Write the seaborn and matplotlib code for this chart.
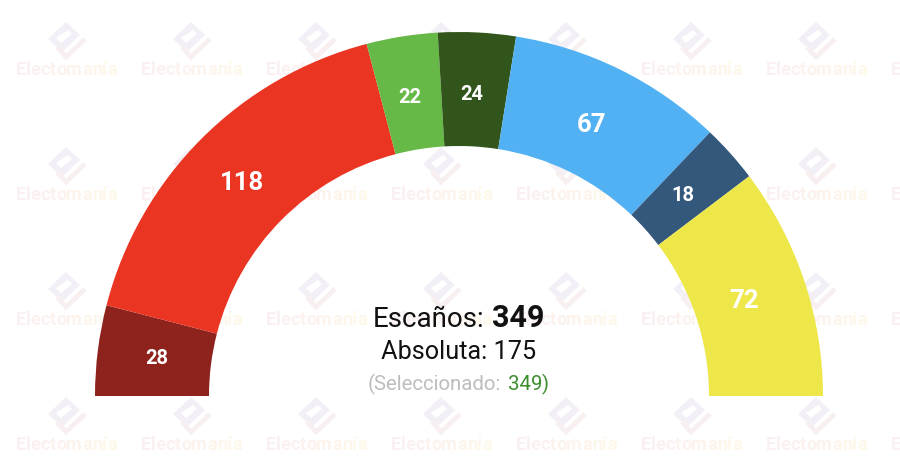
import matplotlib
matplotlib.use("Agg")
import matplotlib.pyplot as plt
import numpy as np
import seaborn as sns
from matplotlib.font_manager import FontProperties
from matplotlib.patches import Polygon
from matplotlib.textpath import TextPath

seats = [28, 118, 22, 24, 67, 18, 72]
party_colors = ["#8E231E", "#EB3523", "#66B946", "#31551B", "#52B1F2", "#33587C", "#EDE74A"]
total_seats = 349
majority = 175
selected = 349
label_sizes = [14.5, 18.5, 14.5, 14.5, 18.5, 14.5, 18.5]

tile_x = [66, 191, 316, 441, 566, 691, 816, 941]
tile_y = [69, 194, 319, 444]
wm_word = "Electomanía"
wm_colors = ["#FAF0F2", "#FAF0F2", "#FBF1F0", "#FBF1F0", "#FCF2EE", "#FCF2EE", "#FCF3ED",
             "#FDF5EC", "#FDF6EB", "#FEF7EA", "#FEF8EA"]

W, H = 900, 460
CX, CY = 459, 63  # centre of the half circle, y from the bottom
R_OUT, R_IN = 364, 250

sns.set_theme(style="white")
plt.rcParams["font.family"] = ["Roboto", "DejaVu Sans"]

fig = plt.figure(figsize=(W / 100, H / 100), dpi=100)
ax = fig.add_axes([0, 0, 1, 1])

# half donut, the lower half is an invisible wedge
wedges, _ = ax.pie(
    seats + [sum(seats)],
    colors=sns.color_palette(party_colors) + [(1, 1, 1, 0)],
    startangle=180,
    counterclock=False,
    radius=R_OUT,
    center=(CX, CY),
    wedgeprops={"width": R_OUT - R_IN, "linewidth": 0, "zorder": 2},
)
ax.set_xlim(0, W)
ax.set_ylim(0, H)
ax.axis("off")

# seat labels inside each wedge
label_r = 303
edges = np.cumsum([0] + seats)
for i, n in enumerate(seats):
    ang = np.pi * (edges[i] + n / 2) / total_seats
    ax.text(CX - 2 - label_r * np.cos(ang), CY + label_r * np.sin(ang), str(n), color="white",
            fontsize=label_sizes[i], fontweight="bold", ha="center", va="center", zorder=3)

# watermark tiles
wm_font = FontProperties(family="Roboto", weight="bold")
wm_px = 18.2
advance = [TextPath((0, 0), wm_word[:i] + "|", size=wm_px, prop=wm_font).get_extents().x1
           - TextPath((0, 0), "|", size=wm_px, prop=wm_font).get_extents().x1
           for i in range(len(wm_word))]
wm_width = TextPath((0, 0), wm_word, size=wm_px, prop=wm_font).get_extents().x1
for tx in tile_x:
    for ty in tile_y:
        base = H - ty - 6
        for ch, off, col in zip(wm_word, advance, wm_colors):
            x = tx - wm_width / 2 + off
            if x > W - 9:  # letters past the edge
                continue
            ax.text(x, base, ch, color=col, fontsize=wm_px * 0.72,
                    fontweight="bold", ha="left", va="baseline", zorder=0)
        ly = H - ty + 29  # logo centre height
        ax.add_patch(Polygon([(tx, ly + 17), (tx + 14, ly + 4), (tx - 4, ly - 13), (tx - 18, ly)],
                             closed=True, fc="#F3EFF6", ec="none", zorder=0))
        ax.add_patch(Polygon([(tx - 10, ly + 1), (tx + 2, ly + 9), (tx + 6, ly + 5), (tx - 5, ly - 4)],
                             closed=True, fc="white", ec="none", zorder=0))
        ax.plot([tx - 9, tx, tx + 19], [ly - 8, ly - 18, ly], color="#F8F0F0", lw=3.5,
                solid_capstyle="butt", solid_joinstyle="miter", zorder=0)

# centre text
ax.text(373, H - 327, "Escaños:", color="#111111", fontsize=20, ha="left", va="baseline", zorder=4)
ax.text(492, H - 327, str(total_seats), color="#111111", fontsize=22, fontweight="bold",
        ha="left", va="baseline", zorder=4)
ax.text(459, H - 359, f"Absoluta: {majority}", color="#111111", fontsize=18.2, ha="center",
        va="baseline", zorder=4)
ax.text(368, H - 390, "(Seleccionado:", color="#BDBDBD", fontsize=14.7, ha="left", va="baseline", zorder=4)
ax.text(508, H - 390, str(selected), color="#3E8E2F", fontsize=14.7, ha="left", va="baseline", zorder=4)
ax.text(542, H - 390, ")", color="#3E8E2F", fontsize=14.7, ha="left", va="baseline", zorder=4)

fig.savefig("out.png", dpi=100, facecolor="white")
